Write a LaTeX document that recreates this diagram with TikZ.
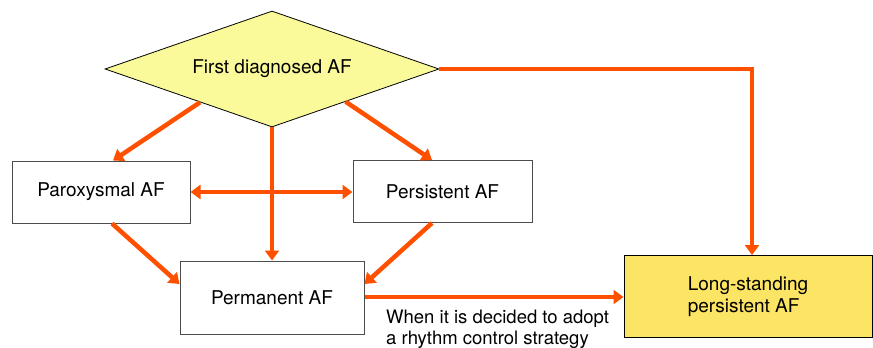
\documentclass[tikz,border=0pt]{standalone}
\usepackage{fontspec}
\setmainfont{TeX Gyre Heros}
\usetikzlibrary{shapes.geometric,arrows.meta,calc}
\definecolor{arr}{RGB}{255,80,0}
\definecolor{dfill}{RGB}{250,250,154}
\definecolor{lfill}{RGB}{252,228,100}
\begin{document}
\begin{tikzpicture}[x=1pt,y=-1pt,
  box/.style={draw=black!70,line width=1pt,fill=white,inner sep=0pt,font=\fontsize{19}{22}\selectfont},
  flow/.style={draw=arr,line width=4.5pt,-{Triangle[width=14pt,length=10pt]}},
  both/.style={draw=arr,line width=4.5pt,{Triangle[width=14pt,length=10pt]}-{Triangle[width=14pt,length=10pt]}}]
\useasboundingbox (0,0) rectangle (873,348);
\node[diamond,shape aspect=2.88,draw=black,line width=0.8pt,fill=dfill,minimum width=334pt,minimum height=116pt,inner sep=0pt,font=\fontsize{19}{22}\selectfont] (fd) at (272,69) {First diagnosed AF};
\node[box,minimum width=178pt,minimum height=62pt] (par) at (101,192) {Paroxysmal AF};
\node[box,minimum width=179pt,minimum height=62pt] (per) at (442.5,191.5) {Persistent AF};
\node[box,minimum width=184pt,minimum height=73pt] (perm) at (272,297.5) {Permanent AF};
\node[box,draw=black,fill=lfill,minimum width=248pt,minimum height=82pt,align=left] (ls) at (748,296.5) {Long-standing\\persistent AF};
\node[anchor=north west,inner sep=0pt,align=left,font=\fontsize{18.5}{21}\selectfont] (lbl) at (386,310) {When it is decided to adopt\\a rhythm control strategy};
\coordinate (c1) at ($(fd.west)!0.57!(fd.south)$);
\coordinate (c2) at ($(fd.south)!0.44!(fd.east)$);
\coordinate (corner) at (752,69);
\draw[flow] (c1) -- (par.north -| 113,0);
\draw[flow] (c2) -- (per.north -| 432,0);
\draw[flow] (fd.south) -- (perm.north);
\draw[flow] (fd.east) -- (corner) -- (ls.north -| corner);
\draw[both] (par.east) -- (per.west |- par.east);
\draw[flow] (par.south -| 112,0) -- (perm.west |- 0,284);
\draw[flow] (per.south -| 432,0) -- (perm.east |- 0,284);
\draw[flow] (perm.east |- 0,297) -- (ls.west |- 0,297);
\end{tikzpicture}
\end{document}
